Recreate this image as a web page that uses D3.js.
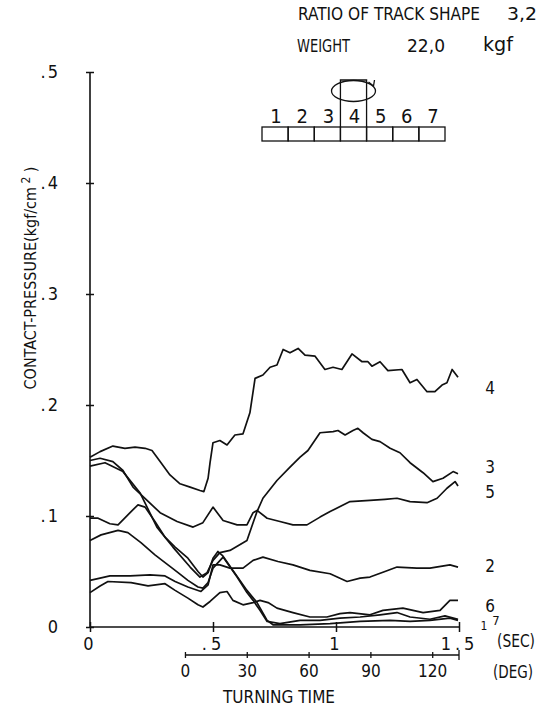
<!DOCTYPE html>
<html><head><meta charset="utf-8">
<script src="https://cdn.jsdelivr.net/npm/d3@7"></script>
<style>
html,body{margin:0;padding:0;background:#fff;}
svg{display:block;}
text{font-family:"DejaVu Sans",sans-serif;font-stretch:condensed;fill:#111;}
</style></head>
<body>
<svg id="chart" width="548" height="712"></svg>
<script>
// ---------- DATA ----------
const headerLines = [["RATIO OF TRACK SHAPE", "3,2", ""], ["WEIGHT", "22,0", "kgf"]];
const wheelBoxes = ["1","2","3","4","5","6","7"];
const yTicks = [0, 0.1, 0.2, 0.3, 0.4, 0.5];
const yTickLabels = ["0", ".1", ".2", ".3", ".4", ".5"];
const xTicks = [0, 0.5, 1, 1.5];
const xTickLabels = ["0", ".5", "1", "1.5"];
const degTicks = [0, 30, 60, 90, 120];
const degStartSec = 0.386;   // time at which 0 deg is reached
const degEnd = 133;          // degrees reached at 1.5 sec
const seriesNames = ["4", "3", "5", "2", "6", "1", "7"];
const labelValues = [0.215, 0.144, 0.122, 0.055, 0.019, 0.0, 0.0];

// series values: [time (sec), contact pressure (kgf/cm2)]
const curve4 = [[0,0.153],[0.041,0.158],[0.093,0.163],[0.142,0.161],[0.183,0.162],[0.224,0.161],[0.252,0.159],[0.285,0.149],[0.325,0.137],[0.366,0.129],[0.407,0.126],[0.447,0.123],[0.463,0.122],[0.480,0.134],[0.488,0.148],[0.500,0.166],[0.528,0.168],[0.557,0.164],[0.589,0.173],[0.622,0.174],[0.650,0.193],[0.671,0.224],[0.703,0.227],[0.732,0.234],[0.760,0.236],[0.785,0.250],[0.813,0.247],[0.846,0.251],[0.874,0.245],[0.915,0.244],[0.955,0.232],[0.988,0.234],[1.024,0.232],[1.065,0.246],[1.106,0.239],[1.130,0.239],[1.146,0.235],[1.179,0.239],[1.211,0.231],[1.268,0.232],[1.301,0.220],[1.329,0.223],[1.370,0.212],[1.402,0.212],[1.431,0.218],[1.451,0.220],[1.472,0.232],[1.496,0.225]];
const curve3 = [[0,0.145],[0.061,0.148],[0.134,0.140],[0.203,0.121],[0.272,0.090],[0.337,0.072],[0.407,0.054],[0.447,0.045],[0.476,0.049],[0.500,0.060],[0.528,0.067],[0.569,0.069],[0.638,0.078],[0.663,0.094],[0.679,0.104],[0.703,0.116],[0.760,0.132],[0.813,0.144],[0.854,0.153],[0.886,0.159],[0.935,0.175],[0.988,0.176],[1.008,0.177],[1.037,0.173],[1.069,0.177],[1.089,0.179],[1.110,0.175],[1.146,0.169],[1.179,0.167],[1.220,0.161],[1.260,0.157],[1.301,0.148],[1.354,0.139],[1.394,0.131],[1.435,0.134],[1.476,0.140],[1.496,0.138]];
const curve5 = [[0,0.150],[0.041,0.152],[0.093,0.149],[0.134,0.141],[0.175,0.126],[0.232,0.114],[0.285,0.103],[0.354,0.095],[0.419,0.090],[0.459,0.094],[0.500,0.108],[0.541,0.096],[0.598,0.092],[0.638,0.092],[0.663,0.103],[0.679,0.105],[0.720,0.098],[0.772,0.095],[0.825,0.092],[0.882,0.092],[0.935,0.099],[0.976,0.104],[1.057,0.113],[1.138,0.114],[1.199,0.115],[1.248,0.116],[1.301,0.113],[1.370,0.112],[1.411,0.116],[1.451,0.125],[1.484,0.131],[1.496,0.127]];
const curve2 = [[0,0.042],[0.041,0.044],[0.081,0.046],[0.163,0.046],[0.244,0.047],[0.305,0.046],[0.346,0.041],[0.398,0.036],[0.451,0.032],[0.480,0.038],[0.500,0.056],[0.528,0.056],[0.569,0.053],[0.622,0.053],[0.663,0.060],[0.703,0.063],[0.764,0.059],[0.825,0.056],[0.894,0.051],[0.976,0.048],[1.045,0.041],[1.098,0.044],[1.138,0.045],[1.199,0.050],[1.248,0.054],[1.329,0.053],[1.382,0.053],[1.463,0.056],[1.496,0.054]];
const curve6 = [[0,0.031],[0.041,0.037],[0.073,0.041],[0.167,0.040],[0.236,0.037],[0.305,0.039],[0.346,0.033],[0.398,0.026],[0.439,0.020],[0.459,0.018],[0.488,0.023],[0.528,0.031],[0.557,0.032],[0.581,0.024],[0.622,0.020],[0.663,0.022],[0.691,0.024],[0.724,0.022],[0.760,0.017],[0.825,0.013],[0.894,0.009],[0.963,0.009],[1.016,0.012],[1.057,0.013],[1.138,0.011],[1.191,0.015],[1.272,0.017],[1.354,0.013],[1.423,0.015],[1.463,0.024],[1.496,0.024]];
const curve1 = [[0,0.098],[0.033,0.098],[0.081,0.093],[0.114,0.092],[0.167,0.104],[0.195,0.110],[0.224,0.108],[0.264,0.095],[0.305,0.081],[0.346,0.072],[0.398,0.062],[0.439,0.050],[0.459,0.045],[0.480,0.049],[0.500,0.062],[0.520,0.068],[0.540,0.064],[0.581,0.051],[0.638,0.033],[0.679,0.022],[0.720,0.006],[0.744,0.002],[0.813,0.002],[0.854,0.002],[0.976,0.003],[1.098,0.005],[1.220,0.006],[1.301,0.005],[1.382,0.006],[1.463,0.008],[1.496,0.006]];
const curve7 = [[0,0.078],[0.045,0.083],[0.114,0.087],[0.154,0.085],[0.207,0.076],[0.264,0.065],[0.317,0.056],[0.358,0.049],[0.398,0.042],[0.439,0.036],[0.459,0.035],[0.480,0.040],[0.500,0.053],[0.541,0.063],[0.598,0.045],[0.638,0.031],[0.663,0.024],[0.691,0.015],[0.720,0.005],[0.772,0.003],[0.854,0.006],[0.935,0.006],[1.016,0.008],[1.098,0.009],[1.179,0.011],[1.248,0.013],[1.301,0.009],[1.382,0.007],[1.443,0.010],[1.496,0.007]];
const seriesData = [curve4, curve3, curve5, curve2, curve6, curve1, curve7];

// ---------- DRAW ----------
const svg = d3.select("#chart");
const x = d3.scaleLinear().domain([0, 1.5]).range([90, 459]);
const y = d3.scaleLinear().domain([0, 0.5]).range([627, 72]);
const deg = d3.scaleLinear().domain([0, degEnd]).range([x(degStartSec), x(1.5)]);

function fit(sel, len) { return sel.attr("textLength", len).attr("lengthAdjust", "spacingAndGlyphs"); }

// header
const hdr = svg.append("g").style("font-size", "18px");
fit(hdr.append("text").attr("x", 298).attr("y", 20).text(headerLines[0][0]), 182);
fit(hdr.append("text").attr("x", 507).attr("y", 20).text(headerLines[0][1]), 30);
fit(hdr.append("text").attr("x", 297).attr("y", 52).text(headerLines[1][0]), 53);
fit(hdr.append("text").attr("x", 407).attr("y", 52).text(headerLines[1][1]), 38);
fit(hdr.append("text").attr("x", 483).attr("y", 51).style("font-size", "19px").text(headerLines[1][2]), 30);

// inset wheel diagram
const band = d3.scaleBand().domain(wheelBoxes).range([262, 445]);
const inset = svg.append("g").attr("fill", "none").attr("stroke", "#111").attr("stroke-width", 1.3);
inset.selectAll("rect.box").data(wheelBoxes).join("rect").attr("class", "box")
  .attr("x", d => band(d)).attr("y", 127).attr("width", band.bandwidth()).attr("height", 14);
const mid = wheelBoxes[3];
inset.append("path").attr("d", `M${band(mid)},127 V80 H${band(mid)+band.bandwidth()} V127`);
const ecx = band(mid) + band.bandwidth() / 2;
inset.append("ellipse").attr("cx", ecx).attr("cy", 91).attr("rx", 22).attr("ry", 10.5);
inset.append("path").attr("d", `M${ecx+15},82 L${ecx+20},86 L${ecx+21},80`);
svg.append("g").style("font-size", "20px").selectAll("text").data(wheelBoxes).join("text")
  .attr("x", d => band(d) + band.bandwidth() / 2 + 1).attr("y", 123).attr("text-anchor", "middle").text(d => d);

const tickFont = "'DejaVu Sans',sans-serif";
// y axis
const yAxis = svg.append("g").attr("transform", `translate(${x(0)},0)`)
  .call(d3.axisLeft(y).tickValues(yTicks).tickSize(4).tickPadding(26).tickFormat((d, i) => yTickLabels[i]));
yAxis.select(".domain").attr("d", `M0,${y(0)}V${y(0.5)}`).attr("stroke", "#111").attr("stroke-width", 1.6);
yAxis.selectAll(".tick line").attr("x1", -4).attr("x2", 4).attr("stroke", "#111").attr("stroke-width", 1.5);
yAxis.selectAll(".tick text").style("font-size", "18px").style("letter-spacing", "2px").attr("fill", "#111")
  .style("font-family", tickFont);

// x axis (sec)
const xAxis = svg.append("g").attr("transform", `translate(0,${y(0)})`)
  .call(d3.axisBottom(x).tickValues(xTicks).tickSize(5).tickPadding(5).tickFormat((d, i) => xTickLabels[i]));
xAxis.select(".domain").attr("d", `M${x(0)},0H${x(1.5)}`).attr("stroke", "#111").attr("stroke-width", 1.6);
xAxis.selectAll(".tick line").attr("y1", -5).attr("y2", 5).attr("stroke", "#111").attr("stroke-width", 1.5);
xAxis.selectAll(".tick text").style("font-size", "18px").style("letter-spacing", "4px").attr("fill", "#111")
  .style("font-family", tickFont);

// deg axis
const degY = 655;
const dAxis = svg.append("g").attr("transform", `translate(0,${degY})`)
  .call(d3.axisBottom(deg).tickValues(degTicks).tickSize(3).tickPadding(7).tickFormat(d3.format("d")));
dAxis.select(".domain").attr("d", `M${deg(0)},0H${deg(degEnd)}`).attr("stroke", "#111").attr("stroke-width", 1.5);
dAxis.selectAll(".tick line").attr("y1", -3).attr("y2", 3).attr("stroke", "#111").attr("stroke-width", 1.3);
dAxis.append("line").attr("x1", deg(degEnd)).attr("x2", deg(degEnd)).attr("y1", -5).attr("y2", 5).attr("stroke", "#111").attr("stroke-width", 1.3);
dAxis.selectAll(".tick text").style("font-size", "17px").attr("fill", "#111")
  .style("font-family", tickFont);

// unit labels
const units = svg.append("g").style("font-size", "17px");
fit(units.append("text").attr("x", 497).attr("y", 647).text("(SEC)"), 38);
fit(units.append("text").attr("x", 493).attr("y", 678).text("(DEG)"), 40);
fit(units.append("text").attr("x", 223).attr("y", 703).text("TURNING TIME"), 112);

// y label
const yl = svg.append("text").attr("transform", "translate(36,278) rotate(-90)")
  .attr("text-anchor", "middle").style("font-size", "16px");
yl.append("tspan").text("CONTACT-PRESSURE(kgf/cm");
yl.append("tspan").attr("dy", -6).style("font-size", "12px").text(" 2");
yl.append("tspan").attr("dy", 6).text(" )");

// curves
const line = d3.line().x(d => x(d[0])).y(d => y(d[1]));
svg.append("g").selectAll("path").data(seriesData).join("path")
  .attr("d", line).attr("fill", "none").attr("stroke", "#111").attr("stroke-width", 1.7)
  .attr("stroke-linejoin", "round");

// curve labels
const lab = svg.append("g").style("font-size", "17px");
seriesNames.forEach((n, i) => {
  if (n === "1" || n === "7") return;
  lab.append("text").attr("x", 490).attr("y", y(labelValues[i])).attr("dy", "0.35em")
    .attr("text-anchor", "middle").text(n);
});
lab.append("text").attr("x", 484).attr("y", 630).style("font-size", "12px").attr("text-anchor", "middle").text(seriesNames[5]);
lab.append("text").attr("x", 496).attr("y", 625).style("font-size", "13px").attr("text-anchor", "middle").text(seriesNames[6]);
</script>
</body></html>
